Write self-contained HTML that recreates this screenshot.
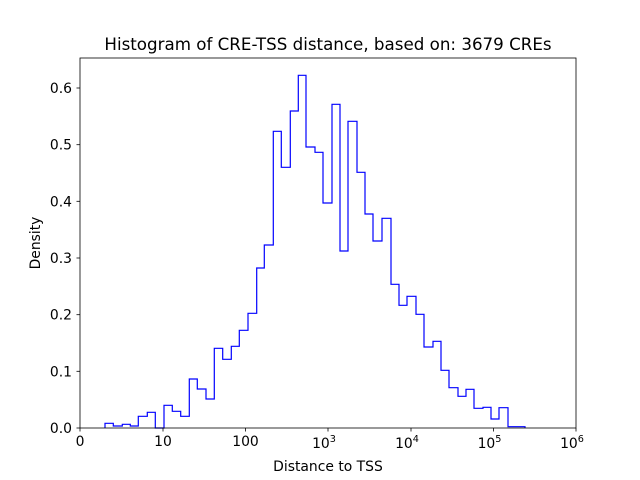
<!DOCTYPE html>
<html><head><meta charset="utf-8"><style>body{margin:0;background:#fff}svg{display:block}text{font-family:"DejaVu Sans","Liberation Sans",sans-serif;fill:#000}</style></head>
<body><svg width="640" height="480" xmlns="http://www.w3.org/2000/svg">
<rect width="640" height="480" fill="#fff"/>
<path d="M105,428 V423.3 H113.3 V426 H122.3 V424.3 H130.3 V426 H138.3 V416.3 H147.3 V412.3 H155.3 V428 H164 V405.3 H172.3 V411.3 H180.7 V416.3 H189.3 V379 H197.3 V389 H206 V399 H214.3 V348.3 H222.7 V359.3 H231.3 V346.3 H239.3 V330.3 H248 V313.3 H256.7 V268 H264.3 V245 H273.3 V131.3 H281.3 V167.3 H290.3 V111 H298.3 V75.3 H306 V147 H315 V152.3 H323 V203 H332 V104.3 H340 V251 H348 V121.3 H357 V172.3 H365 V214 H373 V241 H382 V218.3 H391 V284.3 H399 V305.3 H407 V296.3 H416 V314.3 H424 V347 H433 V341.3 H441 V370.3 H449 V387.7 H458 V396.3 H466 V389.3 H474 V408.3 H483 V407.3 H491 V419 H499 V407.7 H508 V426.7 H525 V428" fill="none" stroke="#0000ff" stroke-width="1.2"/>
<rect x="80" y="58" width="496" height="370" fill="none" stroke="#000" stroke-width="0.8"/>
<g stroke="#000" stroke-width="0.8">
<line x1="80" y1="428" x2="80" y2="431.5"/><line x1="163" y1="428" x2="163" y2="431.5"/><line x1="245.5" y1="428" x2="245.5" y2="431.5"/><line x1="328" y1="428" x2="328" y2="431.5"/><line x1="411" y1="428" x2="411" y2="431.5"/><line x1="493.5" y1="428" x2="493.5" y2="431.5"/><line x1="576" y1="428" x2="576" y2="431.5"/>
<line x1="76.5" y1="428" x2="80" y2="428"/><line x1="76.5" y1="371.3" x2="80" y2="371.3"/><line x1="76.5" y1="314.7" x2="80" y2="314.7"/><line x1="76.5" y1="258" x2="80" y2="258"/><line x1="76.5" y1="201.3" x2="80" y2="201.3"/><line x1="76.5" y1="144.7" x2="80" y2="144.7"/><line x1="76.5" y1="88" x2="80" y2="88"/>
</g>
<g font-size="13.9" text-anchor="middle">
<text x="80" y="446">0</text><text x="163" y="446">10</text><text x="245.5" y="446">100</text>
<text x="324" y="448">10<tspan font-size="9.7" dy="-6">3</tspan></text>
<text x="407" y="448">10<tspan font-size="9.7" dy="-6">4</tspan></text>
<text x="489.5" y="448">10<tspan font-size="9.7" dy="-6">5</tspan></text>
<text x="572" y="448">10<tspan font-size="9.7" dy="-6">6</tspan></text>
</g>
<g font-size="13.9" text-anchor="end">
<text x="72" y="433">0.0</text><text x="72" y="376.3">0.1</text><text x="72" y="319.7">0.2</text><text x="72" y="263">0.3</text><text x="72" y="206.3">0.4</text><text x="72" y="149.7">0.5</text><text x="72" y="93">0.6</text>
</g>
<text x="328" y="471" font-size="13.9" text-anchor="middle">Distance to TSS</text>
<text x="40" y="243" font-size="13.9" text-anchor="middle" transform="rotate(-90 40 243)">Density</text>
<text x="328" y="50" font-size="16.7" text-anchor="middle">Histogram of CRE-TSS distance, based on: 3679 CREs</text>
</svg></body></html>
